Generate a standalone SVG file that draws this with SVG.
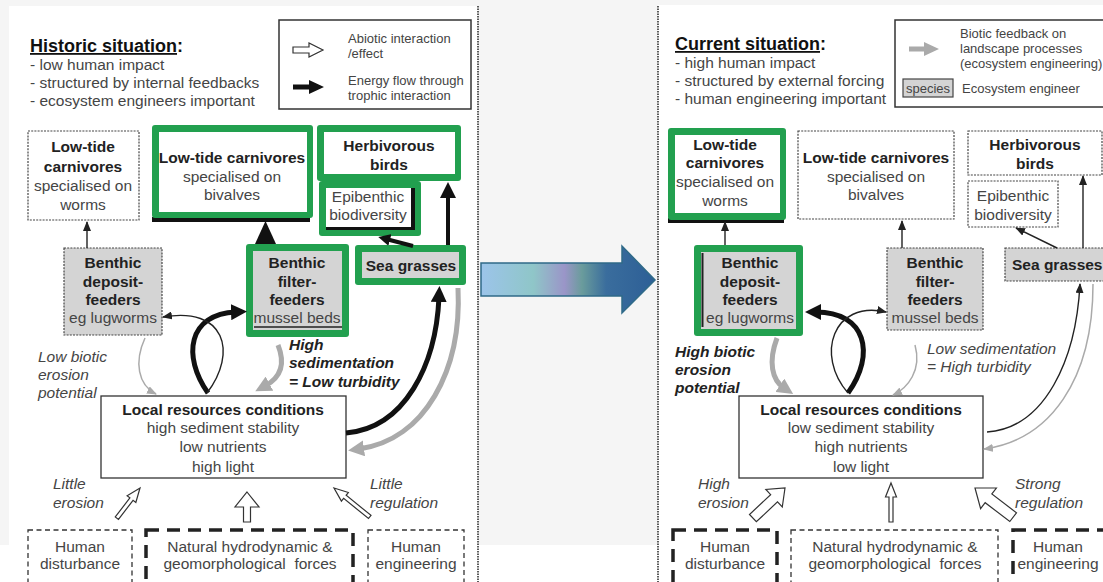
<svg xmlns="http://www.w3.org/2000/svg" width="1103" height="582" viewBox="0 0 1103 582">
<defs>
<style>
.t{font-family:'Liberation Sans',Arial,sans-serif;font-size:15.5px;fill:#454545}
.b{font-weight:bold;fill:#222}
.c{text-anchor:middle}
.i{font-style:italic}
.lg{font-size:13px;fill:#444}
.h{font-size:18px;font-weight:bold;fill:#111}
.dot{fill:#fff;stroke:#444;stroke-width:1.2;stroke-dasharray:2 1.2}
.gdot{fill:#d4d4d4;stroke:#444;stroke-width:1.2;stroke-dasharray:2 1.2}
.dsh{fill:#fff;stroke:#333;stroke-width:1.3;stroke-dasharray:5 3.5}
.dsk{fill:#fff;stroke:#222;stroke-width:3.5;stroke-dasharray:13 8}
.grn{fill:#22a04f}
.inw{fill:#fff}
.ing{fill:#d4d4d4}
.sol{fill:#fff;stroke:#333;stroke-width:1.3}
.hol{fill:#fff;stroke:#333;stroke-width:1.2;stroke-linejoin:miter}
.k1{fill:none;stroke:#222;stroke-width:1.4}
.k4{fill:none;stroke:#111;stroke-width:4}
.k5{fill:none;stroke:#111;stroke-width:5}
.g1{fill:none;stroke:#aaa;stroke-width:1.5}
.g5{fill:none;stroke:#aaa;stroke-width:5}
</style>
<marker id="mks" markerUnits="userSpaceOnUse" markerWidth="10" markerHeight="8" viewBox="0 0 10 8" refX="9" refY="4" orient="auto"><path d="M0,0 L10,4 L0,8 z" fill="#222"/></marker>
<marker id="mgs" markerUnits="userSpaceOnUse" markerWidth="10" markerHeight="8" viewBox="0 0 10 8" refX="9" refY="4" orient="auto"><path d="M0,0 L10,4 L0,8 z" fill="#aaa"/></marker>
<marker id="mkl" markerUnits="userSpaceOnUse" markerWidth="16" markerHeight="16" viewBox="0 0 16 16" refX="5" refY="8" orient="auto"><path d="M0,0 L16,8 L0,16 z" fill="#111"/></marker>
<marker id="mgl" markerUnits="userSpaceOnUse" markerWidth="16" markerHeight="16" viewBox="0 0 16 16" refX="5" refY="8" orient="auto"><path d="M0,0 L16,8 L0,16 z" fill="#aaa"/></marker>
<marker id="mkm" markerUnits="userSpaceOnUse" markerWidth="12" markerHeight="12" viewBox="0 0 12 12" refX="4" refY="6" orient="auto"><path d="M0,0 L12,6 L0,12 z" fill="#111"/></marker>
<linearGradient id="bg" x1="481" y1="0" x2="655" y2="0" gradientUnits="userSpaceOnUse">
<stop offset="0" stop-color="#9cc4ea"/>
<stop offset="0.3" stop-color="#8fc6c8"/>
<stop offset="0.48" stop-color="#9a95c8"/>
<stop offset="0.58" stop-color="#6a9c9c"/>
<stop offset="0.72" stop-color="#3a6d9d"/>
<stop offset="1" stop-color="#2d5f96"/>
</linearGradient>
</defs>

<!-- background -->
<rect x="0" y="0" width="1103" height="582" fill="#f5f5f5"/>
<rect x="9" y="6" width="469" height="576" fill="#fff"/>
<rect x="658" y="5" width="445" height="577" fill="#fff"/>
<rect x="0" y="545" width="1103" height="37" fill="#fff"/>
<line x1="478" y1="6" x2="478" y2="582" stroke="#333" stroke-width="1.6" stroke-dasharray="1.5 1"/>
<line x1="658" y1="6" x2="658" y2="582" stroke="#333" stroke-width="1.6" stroke-dasharray="1.5 1"/>

<!-- transition arrow -->
<g id="transition-arrow">
<polygon points="481,263 622,263 622,246 655,280 622,313 622,296 481,296" fill="url(#bg)" stroke="#2f6a88" stroke-width="1.5"/>
</g>

<!-- LEFT PANEL -->
<g id="historic-title">
<text class="t h" x="30" y="52"><tspan text-decoration="underline">Historic situation</tspan>:</text>
<text class="t" x="30" y="70">- low human impact</text>
<text class="t" x="30" y="88">- structured by internal feedbacks</text>
<text class="t" x="30" y="106">- ecosystem engineers important</text>
</g>

<g id="legend-left">
<rect x="279" y="20" width="192" height="89" fill="#fff" stroke="#333" stroke-width="1.5"/>
<polygon class="hol" points="293,47 309,47 309,43 323,50 309,57 309,53 293,53"/>
<polygon points="293,84.5 309,84.5 309,80 324,87 309,94 309,89.5 293,89.5" fill="#111"/>
<text class="t lg" x="348" y="43">Abiotic interaction</text>
<text class="t lg" x="348" y="58">/effect</text>
<text class="t lg" x="348" y="85">Energy flow through</text>
<text class="t lg" x="348" y="100">trophic interaction</text>
</g>

<g id="L-carn-worms">
<rect class="dot" x="28" y="131" width="111" height="89"/>
<text class="t b c" x="83" y="152">Low-tide</text>
<text class="t b c" x="83" y="172">carnivores</text>
<text class="t c" x="83" y="191">specialised on</text>
<text class="t c" x="83" y="210">worms</text>
</g>

<g id="L-carn-bivalves">
<rect x="152" y="217" width="158" height="5" fill="#111"/>
<rect class="grn" x="152" y="125" width="161" height="93" rx="3"/>
<rect class="inw" x="159" y="132" width="148" height="80"/>
<text class="t b c" x="232" y="163">Low-tide carnivores</text>
<text class="t c" x="232" y="182">specialised on</text>
<text class="t c" x="232" y="200">bivalves</text>
</g>

<g id="L-herb-birds">
<rect class="grn" x="317" y="125" width="144" height="56" rx="3"/>
<rect class="inw" x="324" y="132" width="131" height="42"/>
<text class="t b c" x="389" y="151">Herbivorous</text>
<text class="t b c" x="389" y="170">birds</text>
</g>

<g id="L-epibenthic">
<rect class="grn" x="319" y="181" width="102" height="55" rx="3"/>
<rect x="326" y="188" width="89" height="42" fill="#111"/>
<rect class="inw" x="326" y="188" width="85" height="39"/>
<text class="t c" x="368" y="202">Epibenthic</text>
<text class="t c" x="368" y="220">biodiversity</text>
</g>

<g id="L-filter">
<rect class="grn" x="246" y="244" width="103" height="93" rx="3"/>
<rect class="ing" x="253" y="251" width="89" height="79"/>
<line x1="254" y1="327" x2="342" y2="327" stroke="#222" stroke-width="1.5"/>
<text class="t b c" x="297" y="268">Benthic</text>
<text class="t b c" x="297" y="287">filter-</text>
<text class="t b c" x="297" y="305">feeders</text>
<text class="t c" x="297" y="323">mussel beds</text>
</g>

<g id="L-seagrass">
<rect class="grn" x="355" y="245" width="111" height="40" rx="3"/>
<rect class="ing" x="362" y="252" width="97" height="26"/>
<text class="t b c" x="411" y="271">Sea grasses</text>
</g>

<g id="L-deposit">
<rect class="gdot" x="64" y="248" width="98" height="87"/>
<text class="t b c" x="113" y="268">Benthic</text>
<text class="t b c" x="113" y="287">deposit-</text>
<text class="t b c" x="113" y="305">feeders</text>
<text class="t c" x="113" y="323">eg lugworms</text>
</g>

<g id="L-resources">
<rect class="sol" x="101" y="396" width="245" height="82"/>
<text class="t b c" x="223" y="415">Local resources conditions</text>
<text class="t c" x="223" y="433">high sediment stability</text>
<text class="t c" x="223" y="452">low nutrients</text>
<text class="t c" x="223" y="472">high light</text>
</g>

<g id="L-human-dist">
<rect class="dsh" x="28" y="530" width="104" height="80"/>
<text class="t c" x="80" y="552">Human</text>
<text class="t c" x="80" y="569">disturbance</text>
</g>
<g id="L-natural">
<rect class="dsk" x="146" y="530" width="207" height="80"/>
<text class="t c" x="250" y="552">Natural hydrodynamic &amp;</text>
<text class="t c" x="250" y="569" style="white-space:pre">geomorphological  forces</text>
</g>
<g id="L-human-eng">
<rect class="dsh" x="368" y="530" width="96" height="80"/>
<text class="t c" x="416" y="552">Human</text>
<text class="t c" x="416" y="569">engineering</text>
</g>

<g id="L-labels">
<text class="t i" x="38" y="362">Low biotic</text>
<text class="t i" x="38" y="380">erosion</text>
<text class="t i" x="38" y="398">potential</text>
<text class="t b i" x="289" y="350">High</text>
<text class="t b i" x="289" y="368">sedimentation</text>
<text class="t b i" x="289" y="387">= Low turbidity</text>
<text class="t i" x="53" y="489">Little</text>
<text class="t i" x="53" y="508">erosion</text>
<text class="t i" x="370" y="489">Little</text>
<text class="t i" x="370" y="508">regulation</text>
</g>

<!-- RIGHT PANEL -->
<g id="current-title">
<text class="t h" x="675" y="50"><tspan text-decoration="underline">Current situation</tspan>:</text>
<text class="t" x="675" y="68">- high human impact</text>
<text class="t" x="675" y="86">- structured by external forcing</text>
<text class="t" x="675" y="104">- human engineering important</text>
</g>

<g id="legend-right">
<rect x="895" y="20" width="220" height="87" fill="#fff" stroke="#333" stroke-width="1.5"/>
<polygon points="909,46.5 924,46.5 924,42 939,49 924,56 924,51.5 909,51.5" fill="#aaa"/>
<text class="t lg" x="960" y="38">Biotic feedback on</text>
<text class="t lg" x="960" y="53">landscape processes</text>
<text class="t lg" x="960" y="68">(ecosystem engineering)</text>
<rect x="903" y="79" width="50" height="18" fill="#d4d4d4" stroke="#444" stroke-width="1.2"/>
<text class="t lg c" x="928" y="93">species</text>
<text class="t lg" x="962" y="93">Ecosystem engineer</text>
</g>

<g id="R-carn-worms">
<rect x="668" y="218" width="116" height="5" fill="#111"/>
<rect class="grn" x="668" y="128" width="118" height="92" rx="3"/>
<rect class="inw" x="675" y="135" width="105" height="78"/>
<text class="t b c" x="725" y="150">Low-tide</text>
<text class="t b c" x="725" y="168">carnivores</text>
<text class="t c" x="725" y="187">specialised on</text>
<text class="t c" x="725" y="206">worms</text>
</g>

<g id="R-carn-bivalves">
<rect class="dot" x="798" y="131" width="156" height="88"/>
<text class="t b c" x="876" y="163">Low-tide carnivores</text>
<text class="t c" x="876" y="182">specialised on</text>
<text class="t c" x="876" y="200">bivalves</text>
</g>

<g id="R-herb-birds">
<rect class="dot" x="968" y="131" width="134" height="44"/>
<text class="t b c" x="1035" y="150">Herbivorous</text>
<text class="t b c" x="1035" y="169">birds</text>
</g>

<g id="R-epibenthic">
<rect class="dot" x="968" y="181" width="90" height="46"/>
<text class="t c" x="1013" y="201">Epibenthic</text>
<text class="t c" x="1013" y="220">biodiversity</text>
</g>

<g id="R-deposit">
<rect class="grn" x="694" y="245" width="109" height="91" rx="3"/>
<rect class="ing" x="701" y="252" width="95" height="77"/>
<line x1="702.5" y1="253" x2="702.5" y2="327" stroke="#222" stroke-width="2"/>
<text class="t b c" x="750" y="268">Benthic</text>
<text class="t b c" x="750" y="287">deposit-</text>
<text class="t b c" x="750" y="305">feeders</text>
<text class="t c" x="750" y="323">eg lugworms</text>
</g>

<g id="R-filter">
<rect class="gdot" x="887" y="248" width="96" height="82"/>
<text class="t b c" x="935" y="268">Benthic</text>
<text class="t b c" x="935" y="287">filter-</text>
<text class="t b c" x="935" y="305">feeders</text>
<text class="t c" x="935" y="323">mussel beds</text>
</g>

<g id="R-seagrass">
<rect class="gdot" x="1005" y="248" width="110" height="33"/>
<text class="t b" x="1012" y="270">Sea grasses</text>
</g>

<g id="R-resources">
<rect class="sol" x="739" y="396" width="244" height="82"/>
<text class="t b c" x="861" y="415">Local resources conditions</text>
<text class="t c" x="861" y="433">low sediment stability</text>
<text class="t c" x="861" y="452">high nutrients</text>
<text class="t c" x="861" y="472">low light</text>
</g>

<g id="R-human-dist">
<rect class="dsk" x="673" y="530" width="104" height="80"/>
<text class="t c" x="725" y="552">Human</text>
<text class="t c" x="725" y="569">disturbance</text>
</g>
<g id="R-natural">
<rect class="dsh" x="791" y="530" width="207" height="80"/>
<text class="t c" x="895" y="552">Natural hydrodynamic &amp;</text>
<text class="t c" x="895" y="569" style="white-space:pre">geomorphological  forces</text>
</g>
<g id="R-human-eng">
<rect class="dsk" x="1013" y="530" width="110" height="80"/>
<text class="t c" x="1058" y="552">Human</text>
<text class="t c" x="1058" y="569">engineering</text>
</g>

<g id="R-labels">
<text class="t b i" x="675" y="357">High biotic</text>
<text class="t b i" x="675" y="375">erosion</text>
<text class="t b i" x="675" y="393">potential</text>
<text class="t i" x="927" y="354">Low sedimentation</text>
<text class="t i" x="927" y="372">= High turbidity</text>
<text class="t i" x="698" y="489">High</text>
<text class="t i" x="698" y="508">erosion</text>
<text class="t i" x="1015" y="489">Strong</text>
<text class="t i" x="1015" y="508">regulation</text>
</g>

<!-- CONNECTORS -->
<g id="connectors">
<!-- left -->
<line class="k1" x1="87" y1="248" x2="87" y2="222" marker-end="url(#mks)"/>
<polygon points="255,244 276,244 265.5,221" fill="#111"/>
<line class="k4" x1="413" y1="246" x2="386" y2="239" marker-end="url(#mkm)"/>
<line class="k4" x1="448" y1="245" x2="448" y2="193" marker-end="url(#mkl)"/>
<path class="k5" d="M346,433 C405,428 436,365 439,297" marker-end="url(#mkl)"/>
<path class="g5" d="M458,288 C462,370 425,440 359,449" marker-end="url(#mgl)"/>
<path class="k5" d="M208,393 C182,356 188,314 236,312" marker-end="url(#mkl)"/>
<path class="k1" d="M207,393 C238,352 225,306 163,317" marker-end="url(#mks)"/>
<path class="g1" d="M145,338 C134,362 138,385 156,394" marker-end="url(#mgs)"/>
<path class="g5" d="M278,345 C286,365 280,378 265,386" marker-end="url(#mgl)"/>
<polygon class="hol" transform="translate(140,488) rotate(37.5)" points="0,0 5.5,14 2,14 2,38 -2,38 -2,14 -5.5,14"/>
<polygon class="hol" transform="translate(247,492)" points="0,0 12,15 3.5,15 3.5,30 -3.5,30 -3.5,15 -12,15"/>
<polygon class="hol" transform="translate(334,488) rotate(-51)" points="0,0 5.5,14 2,14 2,46 -2,46 -2,14 -5.5,14"/>
<!-- right -->
<line class="k1" x1="725" y1="245" x2="725" y2="222" marker-end="url(#mks)"/>
<line class="k1" x1="902" y1="248" x2="902" y2="221" marker-end="url(#mks)"/>
<line class="k1" x1="1057" y1="248" x2="1016" y2="228" marker-end="url(#mks)"/>
<line class="k1" x1="1083" y1="248" x2="1083" y2="176" marker-end="url(#mks)"/>
<path class="k1" d="M987,432 C1045,428 1076,360 1080,284" marker-end="url(#mks)"/>
<path class="g1" d="M1093,284 C1093,380 1050,440 984,449" marker-end="url(#mgs)"/>
<path class="k5" d="M848,393 C876,354 866,312 816,312" marker-end="url(#mkl)"/>
<path class="k1" d="M848,393 C815,355 833,300 886,312" marker-end="url(#mks)"/>
<path class="g5" d="M777,338 C768,362 772,380 784,388" marker-end="url(#mgl)"/>
<path class="g1" d="M915,345 C922,370 908,388 893,395" marker-end="url(#mgs)"/>
<polygon class="hol" transform="translate(785,488) rotate(46.8)" points="0,0 12,15 5,15 5,44 -5,44 -5,15 -12,15"/>
<polygon class="hol" transform="translate(891,483)" points="0,0 5.5,14 2,14 2,39 -2,39 -2,14 -5.5,14"/>
<polygon class="hol" transform="translate(975,488) rotate(-52.6)" points="0,0 13,17 5.5,17 5.5,48 -5.5,48 -5.5,17 -13,17"/>
</g>
</svg>
